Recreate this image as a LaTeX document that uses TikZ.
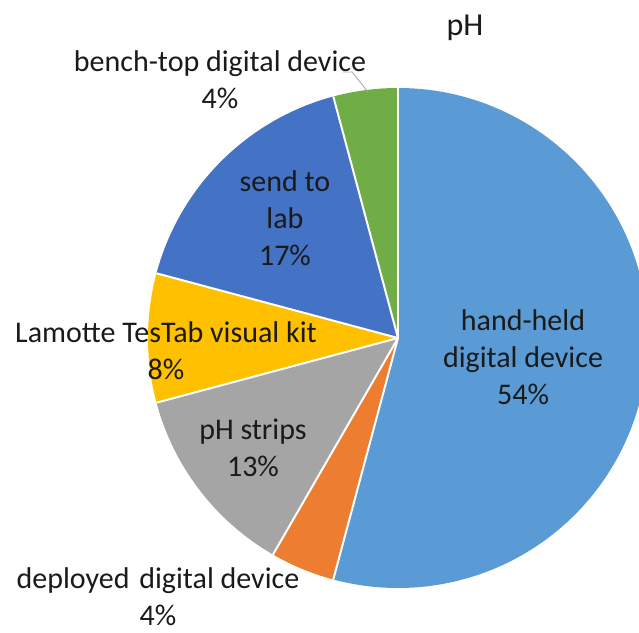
\documentclass[tikz,border=0pt]{standalone}
\usepackage{fontspec}
\setmainfont{Carlito}
\definecolor{cHand}{HTML}{5B9BD5}
\definecolor{cDeploy}{HTML}{ED7D31}
\definecolor{cStrip}{HTML}{A5A5A5}
\definecolor{cKit}{HTML}{FFC000}
\definecolor{cLab}{HTML}{4472C4}
\definecolor{cBench}{HTML}{70AD47}
\definecolor{txt}{HTML}{1A1A1A}
\begin{document}
\begin{tikzpicture}[x=1pt,y=1pt,
  slice/.style={draw=white,line width=2pt,line join=round},
  lbl/.style={align=center,text=txt,inner sep=0pt,font=\fontsize{30}{37}\selectfont},
  leader/.style={draw=black!35,line width=0.8pt}]
\useasboundingbox (0,0) rectangle (639,632);
\clip (0,0) rectangle (639,632);
\coordinate (c) at (398,294);
\def\R{250}
% slices, clockwise from 12 o'clock (15 degrees per response)
\fill[cHand]   (c) -- ++(90:\R)   arc[start angle=90,  end angle=-105, radius=\R] -- cycle;
\fill[cDeploy] (c) -- ++(-105:\R) arc[start angle=-105,end angle=-120, radius=\R] -- cycle;
\fill[cStrip]  (c) -- ++(-120:\R) arc[start angle=-120,end angle=-165, radius=\R] -- cycle;
\fill[cKit]    (c) -- ++(-165:\R) arc[start angle=-165,end angle=-195, radius=\R] -- cycle;
\fill[cLab]    (c) -- ++(-195:\R) arc[start angle=-195,end angle=-255, radius=\R] -- cycle;
\fill[cBench]  (c) -- ++(-255:\R) arc[start angle=-255,end angle=-270, radius=\R] -- cycle;
% white separators
\foreach \a in {90,-105,-120,-165,-195,-255}
  \draw[slice] (c) -- ++(\a:\R);
% title and labels
\node[lbl,font=\fontsize{32}{37}\selectfont] (title) at (465,604) {pH};
\node[lbl] (bench) at (220,552) {bench-top digital device\\4\%};
\node[lbl] (lab)   at (285,414) {send to\\lab\\17\%};
\node[lbl] (hand)  at (523,275) {hand-held\\digital device\\54\%};
\node[lbl] (kit)   at (166,281) {Lamotte TesTab visual kit\\8\%};
\node[lbl] (strip) at (253,184) {pH strips\\13\%};
\node[lbl] (dep)   at (158,35)  {deployed\hspace{0.1em} digital device\\4\%};
% leader line from the bench-top label to its slice
\coordinate (benchStart) at (343,560);
\coordinate (benchBend)  at (352,560);
\coordinate (benchEnd)   at (368,540);
\draw[leader] (benchStart) -- (benchBend) -- (benchEnd);
\end{tikzpicture}
\end{document}
